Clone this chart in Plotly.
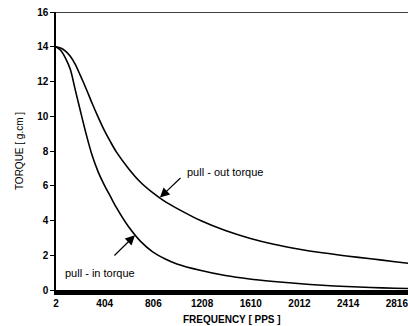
import plotly.graph_objects as go

freq = [2, 40, 80, 120, 160, 200, 250, 300, 350, 400, 450, 500, 600, 700, 800, 900,
        1000, 1200, 1400, 1600, 1800, 2000, 2200, 2400, 2600, 2800, 2930]
pull_out = [14.0, 13.93, 13.75, 13.45, 13.0, 12.4, 11.6, 10.75, 9.95, 9.2, 8.55, 7.95,
            7.0, 6.2, 5.6, 5.1, 4.7, 3.98, 3.42, 2.98, 2.63, 2.36, 2.14, 1.96, 1.8, 1.63, 1.52]
pull_in = [14.0, 13.8, 13.35, 12.7, 11.55, 10.4, 9.0, 7.75, 6.8, 6.05, 5.4, 4.75,
           3.65, 2.8, 2.2, 1.8, 1.5, 1.12, 0.83, 0.63, 0.49, 0.37, 0.27, 0.2, 0.14, 0.1, 0.08]
x_ticks = [2, 404, 806, 1208, 1610, 2012, 2414, 2816]
y_ticks = [0, 2, 4, 6, 8, 10, 12, 14, 16]

FONT = "Liberation Sans"

fig = go.Figure()
fig.add_trace(go.Scatter(x=freq, y=pull_out, mode="lines",
                         line=dict(color="black", width=1.6, shape="spline", smoothing=0.8),
                         name="pull - out torque", showlegend=False))
fig.add_trace(go.Scatter(x=freq, y=pull_in, mode="lines",
                         line=dict(color="black", width=1.6, shape="spline", smoothing=0.8),
                         name="pull - in torque", showlegend=False))

# arrows
fig.add_annotation(x=860, y=5.32, ax=1042, ay=6.53, xref="x", yref="y", axref="x", ayref="y",
                   showarrow=True, arrowhead=2, arrowsize=1.6, arrowwidth=1.2, arrowcolor="black", text="")
fig.add_annotation(x=654, y=3.15, ax=472, ay=1.9, xref="x", yref="y", axref="x", ayref="y",
                   showarrow=True, arrowhead=2, arrowsize=1.6, arrowwidth=1.2, arrowcolor="black", text="")
# labels
fig.add_annotation(x=1067, y=6.8, xref="x", yref="y", text="pull - out torque", showarrow=False,
                   xanchor="left", yanchor="middle", font=dict(family=FONT, size=11, color="black"))
fig.add_annotation(x=60, y=1.0, xref="x", yref="y", text="pull - in torque", showarrow=False,
                   xanchor="left", yanchor="middle", font=dict(family=FONT, size=11, color="black"))
# x-axis title
fig.add_annotation(x=0.5, y=-0.105, xref="paper", yref="paper", text="FREQUENCY [ PPS ]",
                   showarrow=False, xanchor="center", yanchor="middle",
                   font=dict(family=FONT, size=10, weight="bold", color="black"))

# top border
fig.add_shape(type="line", xref="paper", yref="y", x0=0, x1=1, y0=16, y1=16,
              line=dict(color="black", width=1.5))

fig.update_layout(
    width=408, height=326,
    margin=dict(l=56, r=0, t=12, b=36),
    paper_bgcolor="white", plot_bgcolor="white",
    font=dict(family=FONT, color="black"),
)
fig.update_xaxes(range=[2, 2908], tickvals=x_ticks, ticktext=[str(v) for v in x_ticks],
                 showgrid=False, zeroline=False, showline=True, linecolor="black", linewidth=4.5,
                 ticks="", ticklabeloverflow="allow",
                 tickfont=dict(family=FONT, size=10, weight="bold", color="black"))
fig.update_yaxes(range=[0, 16], tickvals=y_ticks, ticktext=[str(v) for v in y_ticks],
                 showgrid=False, zeroline=False, showline=True, linecolor="black", linewidth=1.5,
                 ticks="outside", ticklen=4, tickwidth=1.2, tickcolor="black",
                 tickfont=dict(family=FONT, size=10, weight="bold", color="black"),
                 title=dict(text="TORQUE [ g.cm ]", font=dict(family=FONT, size=10), standoff=12))

fig.write_html("out.html", config={"displayModeBar": False},
               post_script="document.body.style.margin='0';document.body.style.padding='0';"
                           "document.body.style.overflow='hidden';")
